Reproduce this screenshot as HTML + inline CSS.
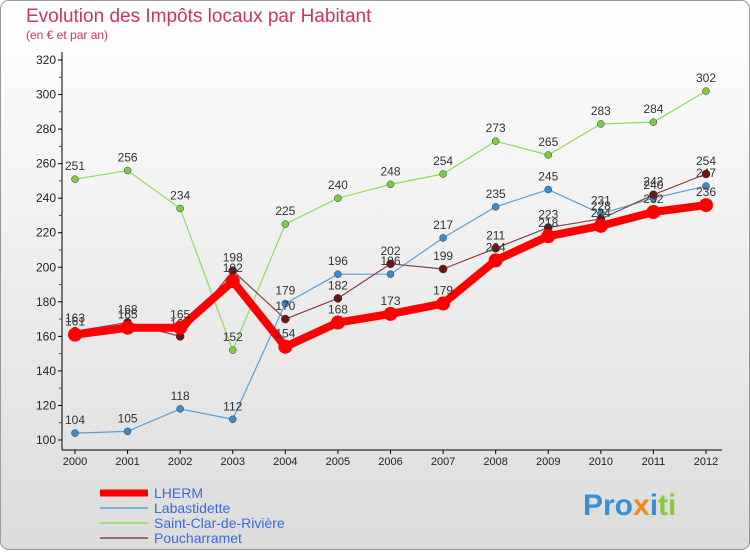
<!DOCTYPE html>
<html><head><meta charset="utf-8"><style>
body{margin:0;width:750px;height:550px;overflow:hidden;font-family:"Liberation Sans","DejaVu Sans",sans-serif}
</style></head><body>
<svg width="750" height="550" xmlns="http://www.w3.org/2000/svg">
<defs><linearGradient id="bg" x1="0" y1="0" x2="0" y2="1"><stop offset="0" stop-color="#ffffff"/><stop offset="1" stop-color="#dcdcdc"/></linearGradient></defs>
<rect x="0.5" y="0.5" width="749" height="549" rx="8" fill="url(#bg)" stroke="#999"/>
<text x="26" y="22" font-size="19" fill="#cc3366">Evolution des Impôts locaux par Habitant</text>
<text x="26" y="39" font-size="12" fill="#cc3366">(en € et par an)</text>
<g id="axes"></g><g id="series"></g><g id="legend"></g>
<text x="583" y="515" font-size="30" font-weight="bold"><tspan fill="#3a8fd0">Pro</tspan><tspan fill="#f08a20">x</tspan><tspan fill="#3a8fd0">i</tspan><tspan fill="#8cc63f">ti</tspan></text>
</svg>
<script>
const years=[2000,2001,2002,2003,2004,2005,2006,2007,2008,2009,2010,2011,2012];
const yTicks=[100,120,140,160,180,200,220,240,260,280,300,320];
const lherm=[161,165,165,192,154,168,173,179,204,218,224,232,236];
const labastidette=[104,105,118,112,179,196,196,217,235,245,231,240,247];
const saintClar=[251,256,234,152,225,240,248,254,273,265,283,284,302];
const poucharramet=[163,168,160,198,170,182,202,199,211,223,228,242,254];
const NS="http://www.w3.org/2000/svg";
const xS=i=>75+i*(706-75)/(years.length-1);
const yS=v=>440-(v-100)*(380/220);
function mk(t,a,p){const e=document.createElementNS(NS,t);for(const k in a)e.setAttribute(k,a[k]);p.appendChild(e);return e;}
const ax=document.getElementById('axes');
let l=mk('line',{x1:62,y1:52,x2:62,y2:450,stroke:'#000'},ax);


l=mk('line',{x1:62,y1:450,x2:722,y2:450,stroke:'#000'},ax);


yTicks.forEach((v,i)=>{const y=yS(v);
 mk('line',{x1:58,y1:y,x2:62,y2:y,stroke:'#000'},ax);
 if(i<yTicks.length-1)mk('line',{x1:59,y1:y-17.3,x2:62,y2:y-17.3,stroke:'#e00'},ax);
 const t=mk('text',{x:56,y:y+4,'font-size':12,'text-anchor':'end',fill:'#222'},ax);t.textContent=v;
 
 });
years.forEach((yr,i)=>{const x=xS(i);
 mk('line',{x1:x,y1:450,x2:x,y2:454,stroke:'#000'},ax);
 const t=mk('text',{x:x,y:465,'font-size':11,'text-anchor':'middle',fill:'#222'},ax);t.textContent=yr;
 
 });
const sg=document.getElementById('series');
const series=[
 {n:'saint-clar',d:saintClar,c:'#8fdc5a',dc:'#7ccb44',w:1.2,r:3.5},
 {n:'labastidette',d:labastidette,c:'#5aa0d8',dc:'#3a8ccc',w:1.2,r:3.5},
 {n:'poucharramet',d:poucharramet,c:'#8a4040',dc:'#6b1515',w:1.2,r:4},
 {n:'lherm',d:lherm,c:'#ff0000',dc:'#ff0000',w:8,r:7}];
series.forEach(s=>{const g=mk('g',{},sg);
 
 
 mk('polyline',{points:s.d.map((v,i)=>xS(i)+','+yS(v)).join(' '),fill:'none',stroke:s.c,'stroke-width':s.w,'stroke-linejoin':'round'},g);
 s.d.forEach((v,i)=>{const c=mk('circle',{cx:xS(i),cy:yS(v),r:s.r,fill:s.dc,stroke:s.n=='lherm'?'none':'#333','stroke-width':0.5},g);
  
  
  const t=mk('text',{x:xS(i),y:yS(v)-9,'font-size':12,'text-anchor':'middle',fill:'#333'},g);t.textContent=v;
  
  });});
const lg=document.getElementById('legend');
const leg=[['LHERM','#ff0000',7],['Labastidette','#5aa0d8',1.5],['Saint-Clar-de-Rivière','#8fdc5a',1.5],['Poucharramet','#8a4040',1.5]];
leg.forEach((e,i)=>{const y=493+i*15;
 const it=mk('g',{},lg);
 
 
 mk('line',{x1:100,y1:y,x2:148,y2:y,stroke:e[1],'stroke-width':e[2]},it);
 const t=mk('text',{x:154,y:y+5,'font-size':14,fill:'#3a6ad8'},it);t.textContent=e[0];});
</script>
</body></html>
